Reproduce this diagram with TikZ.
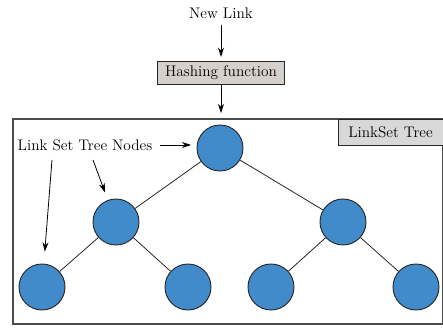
\documentclass[tikz,border=0pt]{standalone}
\usepackage{tikz}
\usepackage{xcolor}
\usetikzlibrary{arrows.meta}
\definecolor{nodeblue}{RGB}{65,139,202}
\definecolor{hashgray}{RGB}{213,208,204}
\definecolor{labelgray}{RGB}{216,216,216}
\tikzstyle{treenode} = [circle, draw=black!85, fill=nodeblue, minimum size=34.5pt, inner sep=0pt, line width=0.7pt]
\tikzstyle{hashbox} = [rectangle, draw=black!85, fill=hashgray, minimum width=95pt, minimum height=17.5pt, line width=0.7pt]
\tikzstyle{tagbox} = [rectangle, draw=black!85, fill=labelgray, minimum width=78.75pt, minimum height=19.5pt, line width=0.7pt]
\tikzstyle{frame} = [rectangle, draw=black!70, minimum width=322.5pt, minimum height=153.75pt, line width=0.8pt]
\tikzstyle{branch} = [-, draw=black!85, line width=0.6pt]

\begin{document}
\begin{tikzpicture}[->,>={Stealth[length=7pt,width=4.5pt]},semithick,x=0.75pt,y=-0.75pt,font=\fontsize{11.5}{13}\selectfont]
  \useasboundingbox (0,0) rectangle (443,328);
  \node[frame] (tree) at (228,221.5) {};
  \node[tagbox] (tag) at (390.5,132) {LinkSet Tree};

  \node (newlink) at (221,13) {New Link};
  \node[hashbox] (hash) at (221,73) {Hashing function};

  \node[treenode] (root) at (220,148) {};
  \node[treenode] (L) at (116,222) {};
  \node[treenode] (R) at (343,222) {};
  \node[treenode] (LL) at (42,287) {};
  \node[treenode] (LR) at (188,287) {};
  \node[treenode] (RL) at (271,287) {};
  \node[treenode] (RR) at (416,287) {};

  \path[branch] (root) edge (L) edge (R);
  \path[branch] (L) edge (LL) edge (LR);
  \path[branch] (R) edge (RL) edge (RR);

  \path (newlink) edge[shorten <=1pt, shorten >=3pt] (hash);
  \path (hash) edge[shorten >=4pt] (hash |- tree.north);

  % pointers from the caption to the nodes
  \node (caption) at (85,145) {Link Set Tree Nodes};
  \coordinate (p1) at (93,160);
  \coordinate (p2) at (52,160);
  \path (caption) edge[shorten <=2pt, shorten >=4pt] (caption -| root.west);
  \path (p1) edge[shorten >=6pt] (L);
  \path (p2) edge[shorten >=9pt] (LL);
\end{tikzpicture}
\end{document}
